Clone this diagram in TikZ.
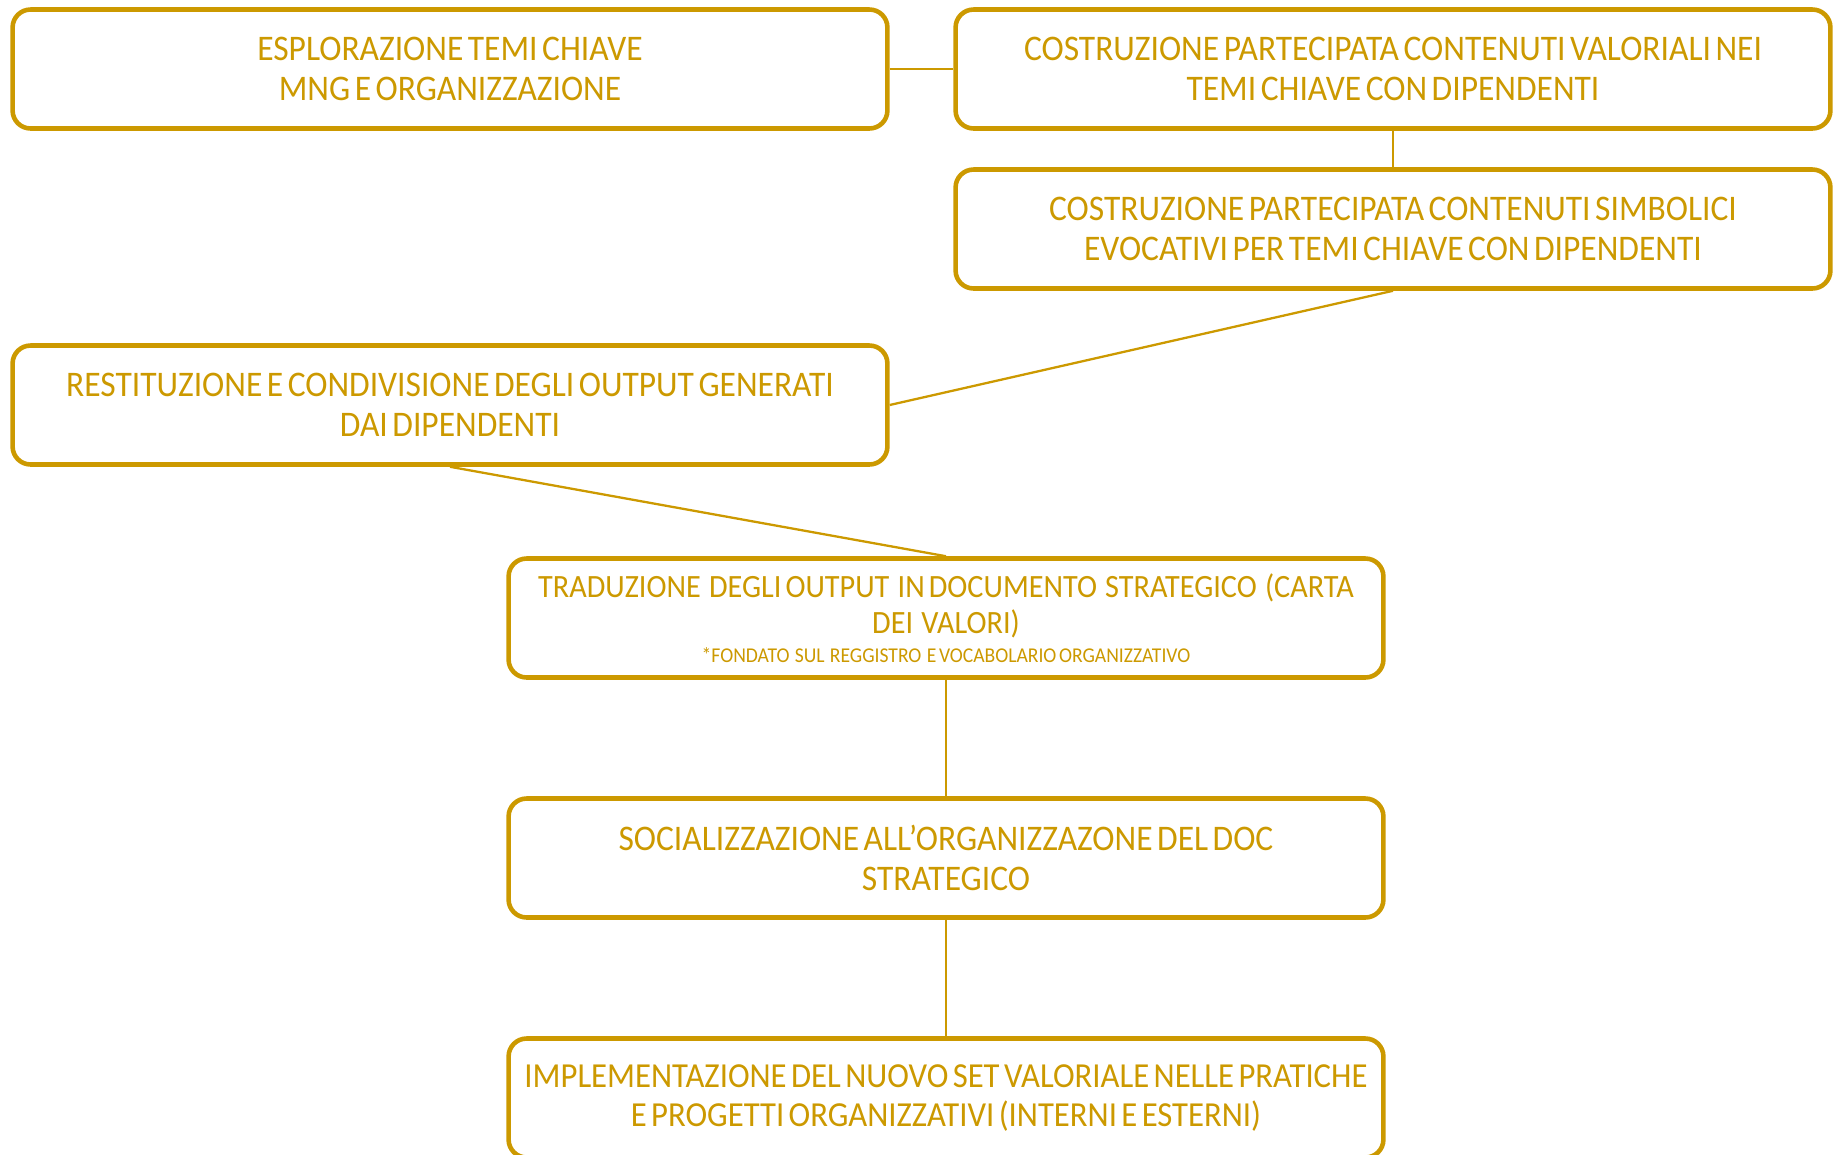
\documentclass[tikz,border=0pt]{standalone}
\usepackage{fontspec}
\setmainfont[FakeStretch=0.93,WordSpace=0.6]{Carlito}
\usetikzlibrary{positioning}
\definecolor{gold}{RGB}{204,153,0}

\begin{document}
\begin{tikzpicture}[x=0.02cm, y=-0.02cm,
  stage/.style={draw=gold, line width=2.6pt, rounded corners=0.36cm, fill=white,
    minimum width=17.5cm, minimum height=2.38cm, inner sep=0pt,
    text=gold, align=center, font=\fontsize{20.5}{22.6}\selectfont},
  link/.style={draw=gold, line width=1.3pt}]
  \useasboundingbox (0,0) rectangle (1833,1154);
  % first row
  \node[stage] (esplo) at (450,69) {ESPLORAZIONE TEMI CHIAVE\\MNG E ORGANIZZAZIONE};
  \node[stage] (valori) at (1393,69) {COSTRUZIONE PARTECIPATA CONTENUTI VALORIALI NEI\\TEMI CHIAVE CON DIPENDENTI};
  \node[stage] (simboli) at (1393,229) {COSTRUZIONE PARTECIPATA CONTENUTI SIMBOLICI\\EVOCATIVI PER TEMI CHIAVE CON DIPENDENTI};
  \node[stage] (restit) at (450,405) {RESTITUZIONE E CONDIVISIONE DEGLI OUTPUT GENERATI\\DAI DIPENDENTI};
  % central column
  \node[stage, font=\fontsize{18.5}{20.6}\selectfont] (carta) at (946,618)
    {TRADUZIONE \ DEGLI OUTPUT \ IN DOCUMENTO \ STRATEGICO \ (CARTA\\DEI \ VALORI)\\[-4pt]
     {\fontsize{12}{13}\selectfont *FONDATO \ SUL \ REGGISTRO \ E VOCABOLARIO ORGANIZZATIVO}};
  \node[stage] (social) at (946,858) {SOCIALIZZAZIONE ALL'ORGANIZZAZONE DEL DOC\\STRATEGICO};
  \node[stage, font=\fontsize{20}{22.6}\selectfont] (impl) at (946,1098) {IMPLEMENTAZIONE DEL NUOVO SET VALORIALE NELLE PRATICHE\\E PROGETTI ORGANIZZATIVI (INTERNI E ESTERNI)};

  \path[link]
  (esplo.east) edge (valori.west)
  (valori.south) edge (simboli.north)
  (simboli.south) edge (restit.east)
  (restit.south) edge (carta.north)
  (carta.south) edge (social.north)
  (social.south) edge (impl.north)
  ;
\end{tikzpicture}
\end{document}
